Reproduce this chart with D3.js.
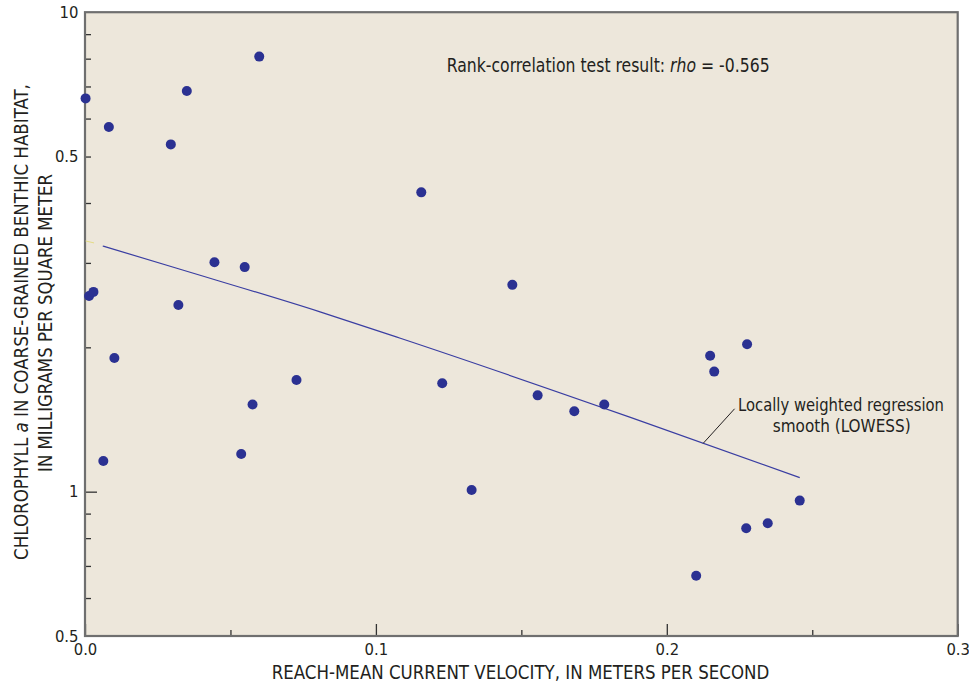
<!DOCTYPE html>
<html><head><meta charset="utf-8">
<script src="https://cdn.jsdelivr.net/npm/d3@7"></script>
<style>body{margin:0;background:#fff}svg{display:block}</style>
</head><body>
<script>
// ---- data ----
const velocity    = [0.0002,0.0082,0.0350,0.0599,0.0295,0.0014,0.0029,0.0321,0.0445,0.0549,0.0101,0.0727,0.0576,0.0537,0.0063,0.1156,0.1469,0.1228,0.1556,0.1682,0.1785,0.1329,0.2276,0.2149,0.2163,0.2457,0.2347,0.2273,0.2101];
const chlorophyll = [6.61,5.76,6.85,8.08,5.30,2.56,2.61,2.45,3.01,2.94,1.90,1.71,1.52,1.198,1.159,4.21,2.70,1.683,1.588,1.471,1.52,1.008,2.03,1.921,1.78,0.958,0.859,0.839,0.668];
const lowessVelocity    = [0.0061,0.0327,0.0808,0.1084,0.1875,0.2457];
const lowessChlorophyll = [3.254,2.91,2.371,2.089,1.429,1.070];
const artifactVelocity    = [0.0002,0.0031];
const artifactChlorophyll = [3.333,3.302];
const leaderVelocity    = [0.2125,0.2233];
const leaderChlorophyll = [1.261,1.489];
const xMajorTicks = [0,0.1,0.2,0.3];
const xTickLabels = ["0.0","0.1","0.2","0.3"];
const xMinorTicks = [0.05,0.15,0.25];
const yLabeledTicks = [0.5,1,5,10];
const yTickLabels = ["0.5","1","0.5","10"];
const yMajorTicks = [1];
const yMinorTicks = [0.6,0.7,0.8,0.9,2,3,4,5,6,7,8,9];

const FONT = "'Liberation Sans Narrow','DejaVu Sans Condensed','Arial Narrow',sans-serif";
const INK = "#231f20";

const svg = d3.select("body").append("svg").attr("width",969).attr("height",685);
const x = d3.scaleLinear().domain([0,0.3]).range([85,957.7]);
const y = d3.scaleLog().domain([0.5,10]).range([636,12.2]);

// plot background
svg.append("rect").attr("x",x(0)).attr("y",y(10)).attr("width",x(0.3)-x(0)).attr("height",y(0.5)-y(10))
  .attr("fill","#ede7db");

function styleAxis(g){
  g.select(".domain").remove();
  g.selectAll(".tick line").attr("stroke","#333").attr("stroke-width",1.3);
  g.selectAll(".tick text").attr("font-family",FONT).attr("font-size",16.5).attr("fill",INK);
}
// x axis
svg.append("g").attr("transform",`translate(0,${y(0.5)})`)
  .call(d3.axisBottom(x).tickValues(xMinorTicks).tickSize(-6).tickFormat("")).call(styleAxis);
svg.append("g").attr("transform",`translate(0,${y(0.5)})`)
  .call(d3.axisBottom(x).tickValues(xMajorTicks).tickSize(-12).tickPadding(7).tickFormat((d,i)=>xTickLabels[i])).call(styleAxis);
// y axis
svg.append("g").attr("transform",`translate(${x(0)},0)`)
  .call(d3.axisLeft(y).tickValues(yMinorTicks).tickSize(-6).tickFormat("")).call(styleAxis);
svg.append("g").attr("transform",`translate(${x(0)},0)`)
  .call(d3.axisLeft(y).tickValues(yMajorTicks).tickSize(-12).tickFormat("")).call(styleAxis);
svg.append("g").attr("transform",`translate(${x(0)},0)`)
  .call(d3.axisLeft(y).tickValues(yLabeledTicks).tickSize(0).tickPadding(6.5).tickFormat((d,i)=>yTickLabels[i])).call(styleAxis);

// frame
svg.append("rect").attr("x",x(0)).attr("y",y(10)).attr("width",x(0.3)-x(0)).attr("height",y(0.5)-y(10))
  .attr("fill","none").attr("stroke","#6f6f6f").attr("stroke-width",2.2);

// lines
const line = d3.line().x(d=>x(d[0])).y(d=>y(d[1]));
svg.append("path").datum(artifactVelocity.map((v,i)=>[v,artifactChlorophyll[i]]))
  .attr("d",line).attr("fill","none").attr("stroke","#e4dc86").attr("stroke-width",1);
svg.append("path").datum(lowessVelocity.map((v,i)=>[v,lowessChlorophyll[i]]))
  .attr("d",d3.line().curve(d3.curveMonotoneX).x(d=>x(d[0])).y(d=>y(d[1])))
  .attr("fill","none").attr("stroke","#3a3ea2").attr("stroke-width",1.2);
svg.append("path").datum(leaderVelocity.map((v,i)=>[v,leaderChlorophyll[i]]))
  .attr("d",line).attr("fill","none").attr("stroke","#231f20").attr("stroke-width",1);

// points
svg.append("g").selectAll("circle").data(velocity.map((v,i)=>[v,chlorophyll[i]])).join("circle")
  .attr("cx",d=>x(d[0])).attr("cy",d=>y(d[1])).attr("r",5).attr("fill","#2b3192");

// text helper: fit to a width
function fitText(t, cx, cy, target, rotate){
  const w = t.node().getBBox().width;
  const s = target / w;
  t.attr("x",0).attr("y",0)
   .attr("transform",`translate(${cx},${cy})${rotate?` rotate(${rotate})`:""} scale(${s},1)`);
}
function addText(str, size, anchor){
  return svg.append("text").attr("font-family",FONT).attr("font-size",size).attr("fill",INK)
    .attr("text-anchor",anchor||"middle").text(str);
}

// x title
fitText(addText("REACH-MEAN CURRENT VELOCITY, IN METERS PER SECOND",20), 520.5, 679, 498);

// y title
const yt1 = svg.append("text").attr("font-family",FONT).attr("font-size",20).attr("fill",INK).attr("text-anchor","middle");
yt1.append("tspan").text("CHLOROPHYLL ");
yt1.append("tspan").attr("font-style","italic").text("a");
yt1.append("tspan").text(" IN COARSE-GRAINED BENTHIC HABITAT,");
fitText(yt1, 28.3, 322, 476, -90);
fitText(addText("IN MILLIGRAMS PER SQUARE METER",20), 52.3, 323, 298, -90);

// rank-correlation
const rk = svg.append("text").attr("font-family",FONT).attr("font-size",20).attr("fill",INK).attr("text-anchor","start");
rk.append("tspan").text("Rank-correlation test result: ");
rk.append("tspan").attr("font-style","italic").text("rho");
rk.append("tspan").text(" = -0.565");
fitText(rk, 446.7, 71.7, 323);

// LOWESS label
fitText(addText("Locally weighted regression",17), 841, 410.7, 206);
fitText(addText("smooth (LOWESS)",17), 841.7, 431.7, 138);
</script>
</body></html>
